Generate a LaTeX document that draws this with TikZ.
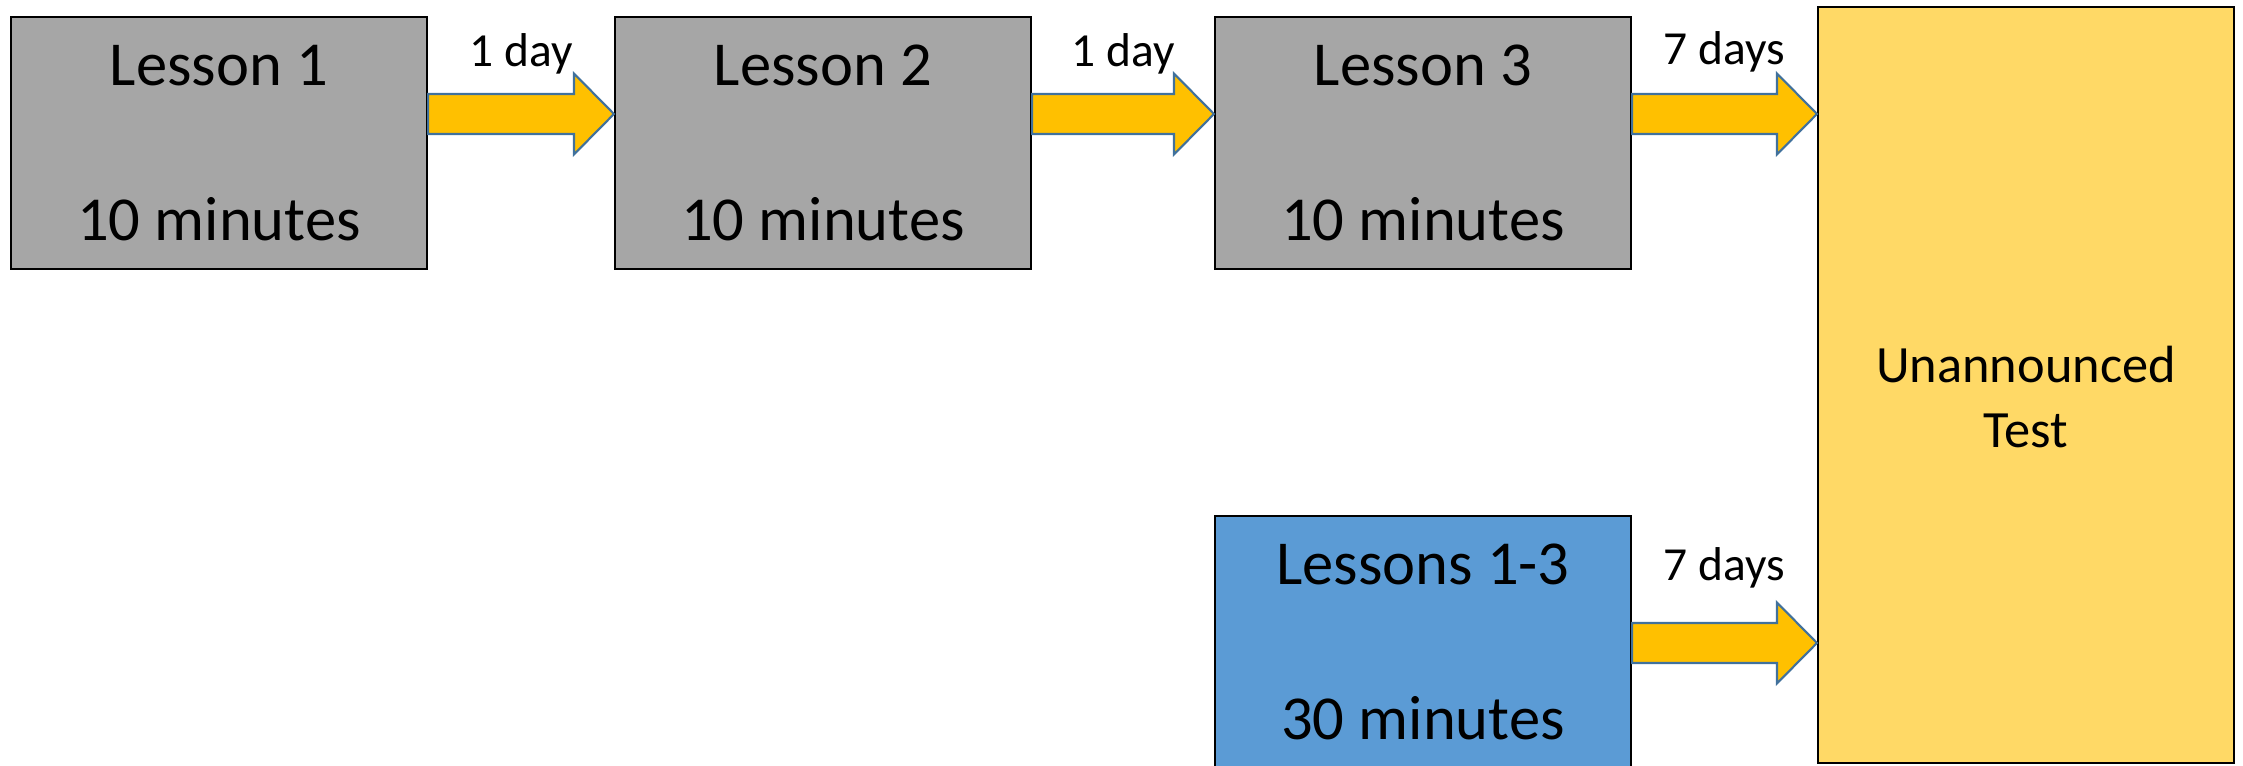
\documentclass[tikz,border=0pt]{standalone}
\usepackage{fontspec}
\setmainfont{Carlito}
\usetikzlibrary{calc}

\definecolor{lessongrey}{HTML}{A6A6A6}
\definecolor{reviewblue}{HTML}{5B9BD5}
\definecolor{testyellow}{HTML}{FFD966}
\definecolor{arrowgold}{HTML}{FFC000}
\definecolor{arrowedge}{HTML}{41719C}

% block arrow: from, to, axis height, label, label baseline
\newcommand{\blockarrow}[5]{%
  \draw [dayarrow] ($(#1.east|-0,#3)+(0,.2)$) -- ($(#2.west|-0,#3)+(-.4,.2)$) -- ($(#2.west|-0,#3)+(-.4,.405)$)
    -- (#2.west|-0,#3) -- ($(#2.west|-0,#3)+(-.4,-.405)$) -- ($(#2.west|-0,#3)+(-.4,-.2)$) -- ($(#1.east|-0,#3)+(0,-.2)$) -- cycle;
  \node (#1to#2) [daylabel] at ($(#1.east|-0,#5)!.5!(#2.west|-0,#5)$) {#4};}

\begin{document}
\begin{tikzpicture}[%
        lesson/.style={ rectangle, minimum width=4.16cm, minimum height=2.52cm, align=center, line width=.6pt, draw=black, fill=lessongrey, font=\fontsize{17.8}{44.1}\selectfont, inner sep=0pt },%
        review/.style={ lesson, fill=reviewblue },%
        test/.style={ rectangle, minimum width=4.16cm, minimum height=7.56cm, line width=.6pt, draw=black, fill=testyellow },%
        testtext/.style={ align=center, inner sep=0pt, font=\fontsize{14.9}{18.5}\selectfont },%
        dayarrow/.style={ line width=.6pt, draw=arrowedge, fill=arrowgold, line join=miter },%
        daylabel/.style={ anchor=base, inner sep=0pt, font=\fontsize{13.5}{16}\selectfont }%
      ]
      \useasboundingbox (0,0) rectangle (22.43,7.66);
      \node (lesson1) at ( 2.19, 6.23) [lesson]{Lesson 1\\10 minutes};
      \node (lesson2) at ( 8.23, 6.23) [lesson]{Lesson 2\\10 minutes};
      \node (lesson3) at (14.23, 6.23) [lesson]{Lesson 3\\10 minutes};
      \node (review)  at (14.23, 1.24) [review]{Lessons 1-3\\30 minutes};
      \node (test)    at (20.26, 3.81) [test]{};
      \node (testlabel) at (20.26, 3.69) [testtext]{Unannounced\\Test};
      \blockarrow{lesson1}{lesson2}{6.52}{1 day}{6.99}
      \blockarrow{lesson2}{lesson3}{6.52}{1 day}{6.99}
      \blockarrow{lesson3}{test}{6.52}{7 days}{7.01}
      \blockarrow{review}{test}{1.23}{7 days}{1.85}
    \end{tikzpicture}
\end{document}
